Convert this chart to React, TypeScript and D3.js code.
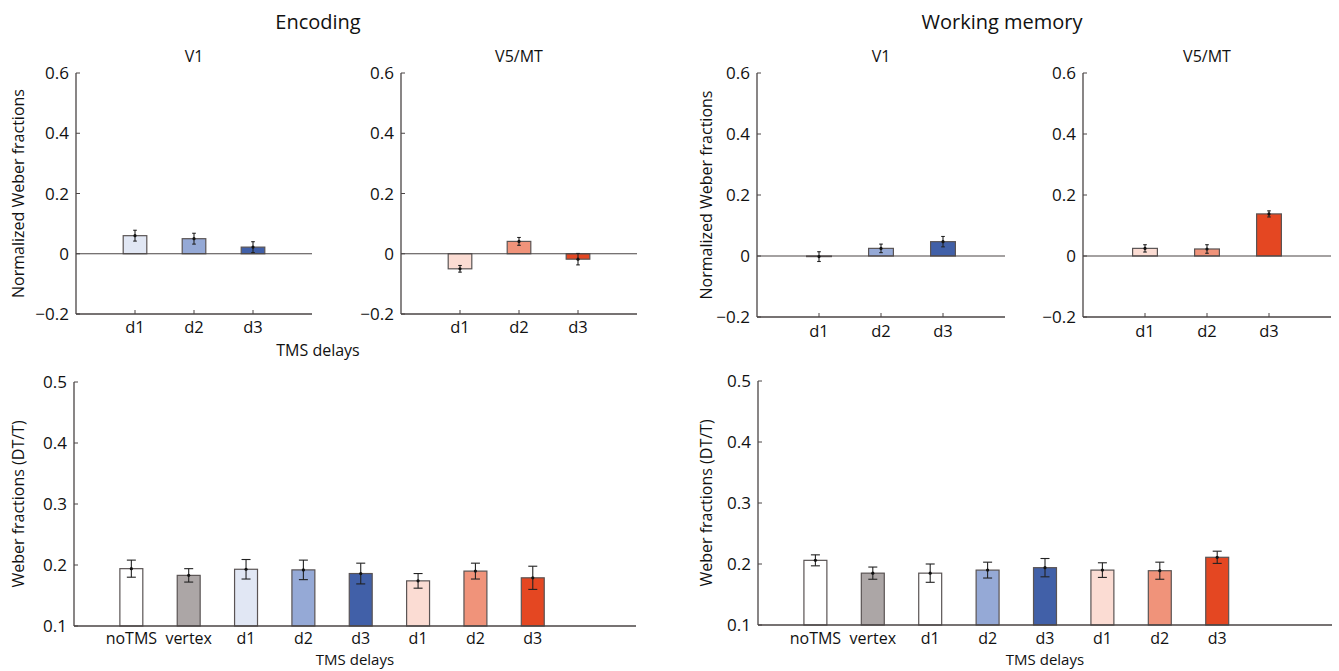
import { scaleLinear } from "d3";

// ---- data ----
const delayLabels = ["d1", "d2", "d3"];
const allLabels = ["noTMS", "vertex", "d1", "d2", "d3", "d1", "d2", "d3"];

const encV1Means = [0.06, 0.05, 0.022];
const encV1Err = [0.018, 0.018, 0.018];
const encV5Means = [-0.05, 0.041, -0.018];
const encV5Err = [0.011, 0.013, 0.019];

const wmV1Means = [-0.002, 0.025, 0.047];
const wmV1Err = [0.016, 0.014, 0.017];
const wmV5Means = [0.025, 0.023, 0.138];
const wmV5Err = [0.012, 0.014, 0.01];

const encAllMeans = [0.194, 0.183, 0.193, 0.192, 0.186, 0.174, 0.19, 0.179];
const encAllErr = [0.014, 0.011, 0.016, 0.016, 0.017, 0.012, 0.013, 0.019];
const wmAllMeans = [0.206, 0.185, 0.185, 0.19, 0.194, 0.19, 0.189, 0.211];
const wmAllErr = [0.009, 0.01, 0.015, 0.013, 0.015, 0.012, 0.014, 0.01];

const normTicks = [-0.2, 0, 0.2, 0.4, 0.6];
const weberTicks = [0.1, 0.2, 0.3, 0.4, 0.5];

const blues = ["#e1e7f4", "#95a9d6", "#4160a8"];
const reds = ["#fbdcd3", "#f0937a", "#e44722"];
const noTmsColor = "#ffffff";
const vertexColor = "#aca6a6";

const FONT = "'Open Sans', 'Noto Sans', sans-serif";
const AXIS = "#4a4444";

const fmt = (v: number) => (v < 0 ? `\u2212${Math.abs(v)}` : `${v}`);

type PanelProps = {
  left: number;
  right: number;
  top: number;
  bottom: number;
  xMax: number;
  yDomain: [number, number];
  ticks: number[];
  labels: string[];
  means: number[];
  errs: number[];
  colors: string[];
  base: number;
  cap: number;
  labelY: number;
  labelSize?: number;
  xTicks?: boolean;
  title?: string;
  yLabel?: string;
  yLabelX?: number;
  xLabel?: string;
  xLabelY?: number;
};

function Panel(p: PanelProps) {
  const x = scaleLinear().domain([0, p.xMax]).range([p.left, p.right]);
  const y = scaleLinear().domain(p.yDomain).range([p.bottom, p.top]);
  const bw = x(0.4) - x(0);
  const midX = (p.left + p.right) / 2;
  const midY = (p.top + p.bottom) / 2;
  return (
    <g>
      {p.title && (
        <text x={midX} y={62} textAnchor="middle" fontSize={16}>
          {p.title}
        </text>
      )}
      {p.means.map((m, i) => {
        const cx = x(i + 1);
        const y0 = y(p.base);
        const y1 = y(m);
        return (
          <rect
            key={i}
            x={cx - bw / 2}
            y={Math.min(y0, y1)}
            width={bw}
            height={Math.abs(y1 - y0)}
            fill={p.colors[i]}
            stroke="#5a5454"
            strokeWidth={1.2}
          />
        );
      })}
      {/* axes */}
      <line x1={p.left} x2={p.left} y1={p.top} y2={p.bottom} stroke={AXIS} strokeWidth={1.3} />
      <line x1={p.left} x2={p.right} y1={p.bottom} y2={p.bottom} stroke={AXIS} strokeWidth={1.3} />
      {p.yDomain[0] < 0 && (
        <line x1={p.left} x2={p.right} y1={y(0)} y2={y(0)} stroke={AXIS} strokeWidth={1.2} />
      )}
      {p.ticks.map((t) => (
        <g key={t}>
          <line x1={p.left} x2={p.left + 4} y1={y(t)} y2={y(t)} stroke={AXIS} strokeWidth={1} />
          <text x={p.left - 7} y={y(t) + 6} textAnchor="end" fontSize={17}>
            {fmt(t)}
          </text>
        </g>
      ))}
      {p.labels.map((l, i) => (
        <g key={i}>
          {p.xTicks && (
            <line x1={x(i + 1)} x2={x(i + 1)} y1={p.bottom} y2={p.bottom - 4} stroke={AXIS} strokeWidth={1} />
          )}
          <text x={x(i + 1)} y={p.labelY} textAnchor="middle" fontSize={p.labelSize ?? 16.5}>
            {l}
          </text>
        </g>
      ))}
      {/* error bars */}
      {p.means.map((m, i) => {
        const cx = x(i + 1);
        const hi = y(m + p.errs[i]);
        const lo = y(m - p.errs[i]);
        return (
          <g key={i} stroke="#222" strokeWidth={1.1}>
            <line x1={cx} x2={cx} y1={hi} y2={lo} />
            <line x1={cx - p.cap} x2={cx + p.cap} y1={hi} y2={hi} />
            <line x1={cx - p.cap} x2={cx + p.cap} y1={lo} y2={lo} />
            <circle cx={cx} cy={y(m)} r={1.6} fill="#111" stroke="none" />
          </g>
        );
      })}
      {p.yLabel && (
        <text
          transform={`translate(${p.yLabelX}, ${midY}) rotate(-90)`}
          textAnchor="middle"
          fontSize={16}
        >
          {p.yLabel}
        </text>
      )}
      {p.xLabel && (
        <text x={midX} y={p.xLabelY} textAnchor="middle" fontSize={15}>
          {p.xLabel}
        </text>
      )}
    </g>
  );
}

export default function App() {
  const allEncColors = [noTmsColor, vertexColor, ...blues, ...reds];
  const allWmColors = [noTmsColor, vertexColor, noTmsColor, blues[1], blues[2], ...reds];
  return (
    <svg
      width={1339}
      height={671}
      style={{ position: "absolute", left: 0, top: 0, background: "#fff" }}
      fontFamily={FONT}
      fill="#111"
    >
      <text x={318} y={29} textAnchor="middle" fontSize={20}>
        Encoding
      </text>
      <text x={1002} y={29} textAnchor="middle" fontSize={20}>
        Working memory
      </text>

      <Panel
        left={76} right={312} top={73} bottom={314} xMax={4}
        yDomain={[-0.2, 0.6]} ticks={normTicks} labels={delayLabels}
        means={encV1Means} errs={encV1Err} colors={blues} base={0} cap={1.8}
        labelY={333} xTicks title="V1" yLabel="Normalized Weber fractions" yLabelX={24}
      />
      <Panel
        left={401} right={637} top={73} bottom={314} xMax={4}
        yDomain={[-0.2, 0.6]} ticks={normTicks} labels={delayLabels}
        means={encV5Means} errs={encV5Err} colors={reds} base={0} cap={1.8}
        labelY={333} xTicks title="V5/MT"
      />
      <text x={318} y={356} textAnchor="middle" fontSize={16}>
        TMS delays
      </text>

      <Panel
        left={757} right={1005} top={73} bottom={317} xMax={4}
        yDomain={[-0.2, 0.6]} ticks={normTicks} labels={delayLabels}
        means={wmV1Means} errs={wmV1Err} colors={blues} base={0} cap={1.8}
        labelY={337} xTicks title="V1" yLabel="Normalized Weber fractions" yLabelX={712}
      />
      <Panel
        left={1083} right={1331} top={73} bottom={317} xMax={4}
        yDomain={[-0.2, 0.6]} ticks={normTicks} labels={delayLabels}
        means={wmV5Means} errs={wmV5Err} colors={reds} base={0} cap={1.8}
        labelY={337} xTicks title="V5/MT"
      />

      <Panel
        left={74} right={636} top={382} bottom={626} xMax={9.8}
        yDomain={[0.1, 0.5]} ticks={weberTicks} labels={allLabels}
        means={encAllMeans} errs={encAllErr} colors={allEncColors} base={0.1} cap={4.5}
        labelY={644} labelSize={16} yLabel="Weber fractions (DT/T)" yLabelX={24}
        xLabel="TMS delays" xLabelY={665}
      />
      <Panel
        left={758} right={1332} top={381} bottom={625} xMax={10}
        yDomain={[0.1, 0.5]} ticks={weberTicks} labels={allLabels}
        means={wmAllMeans} errs={wmAllErr} colors={allWmColors} base={0.1} cap={4.5}
        labelY={644} labelSize={16} yLabel="Weber fractions (DT/T)" yLabelX={712}
        xLabel="TMS delays" xLabelY={665}
      />
    </svg>
  );
}
